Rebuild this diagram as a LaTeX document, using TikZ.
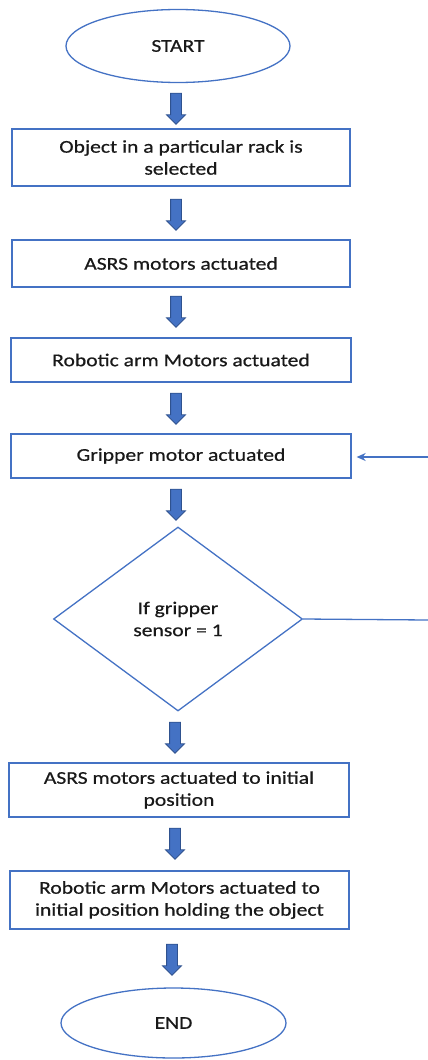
\documentclass[tikz,border=0pt]{standalone}
\usepackage{fontspec}
\setmainfont{Carlito}[FakeStretch=1.2,FakeBold=0.6]
\usepackage{tikz}
\usetikzlibrary{arrows.meta}
\usetikzlibrary{shapes.geometric,shapes.arrows}
\definecolor{ofblue}{HTML}{4472C4}
\definecolor{ofdark}{HTML}{2F528F}

\begin{document}
\begin{tikzpicture}[x=1pt,y=-1pt,
		font=\fontsize{18}{22}\selectfont,
		>={Stealth[length=9pt,width=8pt]}]
			\useasboundingbox (0,0) rectangle (428,1060);

			\begin{scope}[every node/.style={draw=ofblue,line width=1.3pt,text=black!90,align=center}]
				\node[ellipse,minimum width=224pt,minimum height=73pt] (start) at (178,46) {START};
				\node[rectangle,minimum width=338pt,minimum height=57pt] (sel) at (181,157.5) {Object in a particular rack is\\selected};
				\node[rectangle,minimum width=338pt,minimum height=47pt] (asrs) at (181,263.5) {ASRS motors actuated};
				\node[rectangle,minimum width=340pt,minimum height=44pt] (arm) at (181,360) {Robotic arm Motors actuated};
				\node[rectangle,minimum width=340pt,minimum height=44pt] (grip) at (181,456) {Gripper motor actuated};
				\node[diamond,minimum width=249pt,minimum height=184pt,inner sep=0pt] (check) at (178,619) {If gripper\\sensor = 1};
				\node[rectangle,minimum width=340pt,minimum height=54pt] (asrsback) at (179,790) {ASRS motors actuated to initial\\position};
				\node[rectangle,minimum width=339pt,minimum height=58pt] (armback) at (179.5,900) {Robotic arm Motors actuated to\\initial position holding the object};
				\node[ellipse,minimum width=225pt,minimum height=70pt] (end) at (173.5,1023) {END};
			\end{scope}

			% block arrows between the steps
			\begin{scope}[every node/.style={single arrow,shape border rotate=270,fill=ofblue,draw=ofdark,line width=0.8pt,
				minimum height=31pt,inner sep=5pt,single arrow head extend=4pt}]
				\node (a1) at (176,106) {};
				\node (a2) at (176,212) {};
				\node (a3) at (176,309) {};
				\node (a4) at (176,406) {};
				\node (a5) at (176,502) {};
				\node (a6) at (175,735) {};
				\node (a7) at (175,841) {};
				\node (a8) at (172,957) {};
			\end{scope}

			% loop back when the sensor reads 1
			\coordinate (loopout) at (428,620);
			\coordinate (loopin) at (428,457);
			\draw[ofblue,line width=1.3pt] (check.east) -- (loopout);
			\draw[ofblue,line width=1.3pt,->,shorten >=5pt] (loopin) -- (grip.east |- loopin);
		\end{tikzpicture}
\end{document}
